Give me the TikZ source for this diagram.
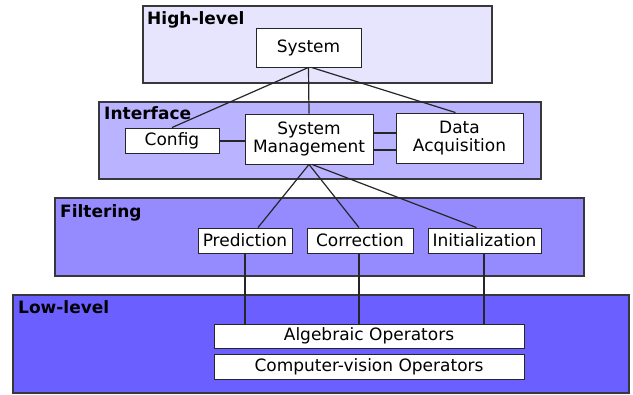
\documentclass[tikz,border=0pt]{standalone}
\usepackage{fontspec}
\setmainfont{DejaVu Sans}
\usetikzlibrary{calc}
\definecolor{highc}{RGB}{231,229,254}
\definecolor{ifacec}{RGB}{186,179,255}
\definecolor{filtc}{RGB}{150,138,255}
\definecolor{lowc}{RGB}{108,95,255}
\definecolor{layerline}{RGB}{55,55,60}
\tikzset{
  layer/.style={draw=layerline, line width=1.3pt},
  layerlabel/.style={anchor=north west, inner sep=0pt, font=\fontsize{17}{19}\selectfont\bfseries},
  block/.style={draw=black!85, fill=white, line width=0.9pt, inner sep=0pt, align=center,
    font=\fontsize{17}{19}\selectfont},
  link/.style={draw=black!85, line width=1.2pt},
}
\begin{document}
\begin{tikzpicture}[x=1pt,y=-1pt]
\useasboundingbox (0,0) rectangle (633,395);

% layers
\fill[white] (0,0) rectangle (633,395);
\draw[layer, fill=highc]  (143,6)   rectangle (492,83);
\draw[layer, fill=ifacec] (99,102)  rectangle (541,179);
\draw[layer, fill=filtc]  (55,198)  rectangle (584,276);
\draw[layer, fill=lowc]   (13,295)  rectangle (629,393);

\node[layerlabel] (lhigh) at (147,11)  {High-level};
\node[layerlabel] (liface) at (104,106) {Interface};
\node[layerlabel] (lfilt) at (60,204)  {Filtering};
\node[layerlabel] (llow) at (18,300)   {Low-level};

% components
\node[block, minimum width=105pt, minimum height=39pt] (sys)  at (308.5,47.5) {System};
\node[block, minimum width=94pt,  minimum height=25pt] (cfg)  at (172,140.5)  {Config};
\node[block, minimum width=128pt, minimum height=50pt] (sm)   at (309,139)    {System\\[-1pt]Management};
\node[block, minimum width=127pt, minimum height=50pt] (da)   at (459.5,138)  {Data\\[-1pt]Acquisition};
\node[block, minimum width=94pt,  minimum height=25pt] (pred) at (245,240.5)  {Prediction};
\node[block, minimum width=106pt, minimum height=25pt] (corr) at (360,240.5)  {Correction};
\node[block, minimum width=113pt, minimum height=25pt] (init) at (484.5,240.5){Initialization};
\node[block, minimum width=310pt, minimum height=24pt] (alg)  at (369,336)    {Algebraic Operators};
\node[block, minimum width=310pt, minimum height=25pt] (cv)   at (369,366.5)  {Computer-vision Operators};

% connections
\draw[link] (sys.south) -- (sm.north);
\draw[link] (sys.south) -- (cfg.north);
\draw[link] ([xshift=3pt]sys.south) -- ([xshift=-4pt]da.north);
\draw[link] ([yshift=-0.5pt]cfg.east) -- ([yshift=-0.5pt]cfg.east -| sm.west);
\draw[link] ([yshift=6pt]sm.east) -- ([yshift=6pt]sm.east -| da.west);
\draw[link] ([yshift=-11pt]sm.east) -- ([yshift=-11pt]sm.east -| da.west);
\draw[link] (sm.south) -- ([xshift=13pt]pred.north);
\draw[link] (sm.south) -- ([xshift=-1pt]corr.north);
\draw[link] ([xshift=3pt]sm.south) -- ([xshift=-8pt]init.north);
\draw[link] (pred.south) -- (pred.south |- alg.north);
\draw[link] ([xshift=-1pt]corr.south) -- ([xshift=-1pt]corr.south |- alg.north);
\draw[link] ([xshift=-0.5pt]init.south) -- ([xshift=-0.5pt]init.south |- alg.north);
\end{tikzpicture}
\end{document}
